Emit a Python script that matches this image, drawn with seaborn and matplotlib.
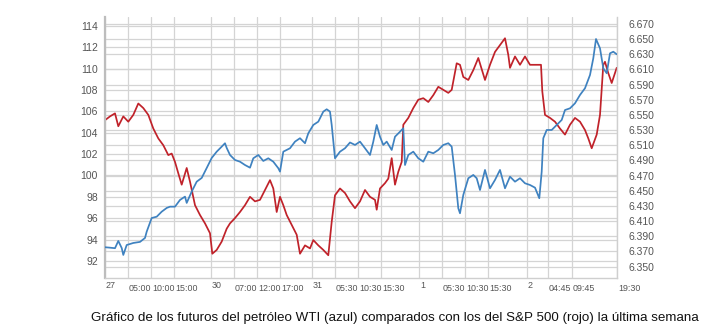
import matplotlib
matplotlib.use("Agg")
import matplotlib.pyplot as plt
import matplotlib.transforms as mtransforms
import seaborn as sns
import pandas as pd

# Trading-time position along the week (arbitrary continuous units) and prices
wti_t = [0, 5, 10, 13.3, 16.7, 18.3, 21.7, 28.3, 35, 40, 41.7, 46.7, 51.7, 56.7, 61.7,
         65, 70, 75, 80, 81.7, 86.7, 91.7, 96.7, 101.7, 106.7, 111.7, 116.7, 120, 121.7,
         125, 130, 135, 140, 145, 148.3, 153.3, 158.3, 163.3, 168.3, 173.3, 175, 178.3,
         185, 190, 195, 200, 203.3, 208.3, 213.3, 218.3, 221.7, 225, 226.7, 230, 235,
         240, 245, 250, 255, 260, 265, 268.3, 271.7, 275, 278.3, 281.7, 286.7, 290,
         295, 298.3, 300, 303.3, 308.3, 313.3, 318.3, 323.3, 328.3, 333.3, 338.3,
         343.3, 346.7, 350, 353.3, 355, 358.3, 363.3, 368.3, 371.7, 375, 380, 385, 390,
         395, 400, 405, 410, 415, 420, 425, 430, 434.3, 436.7, 438.3, 441.7, 446.7,
         451.7, 456.7, 460, 465, 470, 475, 480, 485, 488.3, 491, 495, 498.3, 501.7,
         505, 508.3, 511.7]
wti_v = [93.28, 93.24, 93.19, 93.87, 93.21, 92.56, 93.49, 93.68, 93.78, 94.15, 94.74,
         96.02, 96.14, 96.61, 96.96, 97.08, 97.08, 97.71, 98.02, 97.43, 98.49, 99.42,
         99.77, 100.70, 101.64, 102.23, 102.70, 103.02, 102.58, 101.92, 101.45, 101.29,
         100.98, 100.73, 101.61, 101.92, 101.36, 101.61, 101.29, 100.68, 100.36,
         102.23, 102.55, 103.17, 103.49, 103.02, 103.95, 104.73, 105.04, 105.98,
         106.20, 105.98, 104.73, 101.61, 102.23, 102.55, 103.09, 102.86, 103.17,
         102.55, 101.92, 103.17, 104.73, 103.63, 102.86, 103.17, 102.39, 103.63,
         104.10, 104.42, 100.98, 101.92, 102.23, 101.61, 101.29, 102.23, 102.08,
         102.39, 102.86, 103.02, 102.70, 100.05, 96.93, 96.46, 98.18, 99.74, 100.05,
         99.74, 98.64, 100.52, 98.80, 99.58, 100.52, 98.80, 99.89, 99.42, 99.74,
         99.27, 99.11, 98.86, 97.87, 100.36, 103.49, 104.26, 104.26, 104.73, 105.20,
         106.13, 106.29, 106.76, 107.54, 108.17, 109.41, 110.98, 112.78, 111.91,
         110.04, 109.57, 111.44, 111.59, 111.35]

spx_t = [0, 5, 10, 13.3, 18.3, 23.3, 28.3, 33.3, 38.3, 43.3, 48.3, 53.3, 58.3, 63.3,
         66.7, 70, 73.3, 76.7, 81.7, 85, 90, 95, 100, 105, 107.3, 111.7, 116.7, 121.7,
         125, 130, 135, 140, 145, 150, 155, 160, 165, 168.3, 171.7, 175, 178.3, 181.7,
         186.7, 191.7, 195, 200, 205, 208.3, 213.3, 218.3, 223.3, 226.7, 230, 235, 240,
         245, 250, 255, 260, 265, 270, 271.7, 275, 280, 283.3, 286.7, 290, 293.3, 296.7,
         298.3, 303.3, 308.3, 313.3, 318.3, 323.3, 328.3, 333.3, 338.3, 343.3, 346.7,
         351.7, 355, 358.3, 363.3, 368.3, 373.3, 380, 385, 390, 395, 400, 403.3, 405,
         410, 415, 420, 425, 430, 436, 437.3, 440, 445, 450, 455, 460, 465, 470, 475,
         480, 483.3, 486.7, 491.7, 495, 498.3, 500, 503.3, 506.7, 511.7]
spx_v = [6.543, 6.548, 6.552, 6.535, 6.548, 6.541, 6.550, 6.565, 6.559, 6.550, 6.532,
         6.519, 6.510, 6.497, 6.499, 6.488, 6.473, 6.458, 6.480, 6.462, 6.431, 6.418,
         6.407, 6.394, 6.367, 6.372, 6.383, 6.400, 6.407, 6.414, 6.422, 6.431, 6.442,
         6.436, 6.438, 6.451, 6.464, 6.453, 6.422, 6.442, 6.431, 6.418, 6.405, 6.392,
         6.367, 6.378, 6.374, 6.385, 6.378, 6.372, 6.365, 6.409, 6.444, 6.453, 6.447,
         6.436, 6.427, 6.436, 6.451, 6.442, 6.438, 6.425, 6.453, 6.460, 6.466, 6.493,
         6.458, 6.475, 6.488, 6.537, 6.546, 6.559, 6.570, 6.572, 6.567, 6.576, 6.587,
         6.583, 6.579, 6.583, 6.618, 6.616, 6.600, 6.596, 6.609, 6.625, 6.596, 6.616,
         6.633, 6.642, 6.651, 6.629, 6.612, 6.627, 6.616, 6.627, 6.616, 6.616, 6.616,
         6.581, 6.550, 6.546, 6.541, 6.532, 6.524, 6.537, 6.546, 6.541, 6.530, 6.519,
         6.506, 6.524, 6.550, 6.616, 6.620, 6.605, 6.592, 6.612]

# Horizontal axis labels: position, text, whether it marks a new day
tick_pos = [0, 23, 46, 69, 106, 129, 152, 175, 207, 230, 253, 276, 314, 337, 360,
            383, 422, 443, 467, 512]
tick_txt = ["27", "05:00", "10:00", "15:00", "30", "07:00", "12:00", "17:00", "31",
            "05:30", "10:30", "15:30", "1", "05:30", "10:30", "15:30", "2", "04:45",
            "09:45", "19:30"]
tick_day = [True, False, False, False, True, False, False, False, True, False, False,
            False, True, False, False, False, True, False, False, False]

left_ticks = list(range(92, 115, 2))
right_ticks = [6.350 + 0.020 * i for i in range(17)]

caption = ("Gráfico de los futuros del petróleo WTI (azul) comparados con los del "
           "S&P 500 (rojo) la última semana")

sns.set_theme(style="white")
plt.rcParams["font.family"] = ["Liberation Sans", "DejaVu Sans"]

BLUE = "#3f82c0"
RED = "#c0222a"
GRID = "#d4d4d4"
LABEL = "#555555"

fig = plt.figure(figsize=(7.04, 3.30), dpi=100)
ax = fig.add_axes([105 / 704, 1 - 278 / 330, 512 / 704, 261 / 330])
ax2 = ax.twinx()

wti = pd.DataFrame({"t": wti_t, "v": wti_v})
spx = pd.DataFrame({"t": spx_t, "v": spx_v})

ax.set_xlim(0, 512)
ax.set_ylim(90.40, 114.84)
ax2.set_ylim(6.335, 6.679)

# grid from both value scales plus the time ticks
for y in left_ticks:
    ax2.axhline((y - 90.40) / (114.84 - 90.40) * (6.679 - 6.335) + 6.335,
                color=GRID, lw=0.9, zorder=0)
for y in right_ticks:
    ax2.axhline(y, color=GRID, lw=0.9, zorder=0)
for x in tick_pos:
    ax2.axvline(x, color=GRID, lw=0.9, zorder=0)

sns.lineplot(data=spx, x="t", y="v", ax=ax2, color=RED, lw=1.25, zorder=3)
sns.lineplot(data=wti, x="t", y="v", ax=ax, color=BLUE, lw=1.25, zorder=3)

# oil line drawn above the grid and the index line's axes
ax.set_zorder(2)
ax.patch.set_visible(False)
ax2.set_zorder(1)
ax2.set_xlim(0, 512)

for a in (ax, ax2):
    a.set_xlabel("")
    a.set_ylabel("")
    for s in a.spines.values():
        s.set_visible(False)

ax.spines["left"].set_visible(True)
ax.spines["left"].set_color("#bdbdbd")
ax.spines["left"].set_linewidth(1.6)
ax.spines["bottom"].set_visible(True)
ax.spines["bottom"].set_color("#cfcfcf")
ax.spines["bottom"].set_linewidth(1.0)
ax.spines["right"].set_visible(True)
ax.spines["right"].set_color("#cfcfcf")
ax.spines["right"].set_linewidth(1.0)

ax.set_yticks(left_ticks)
ax.set_yticklabels([str(v) for v in left_ticks])
ax2.set_yticks(right_ticks)
ax2.set_yticklabels([f"{v:.3f}" for v in right_ticks])
ax.tick_params(axis="y", length=0, pad=5, labelsize=7.5, labelcolor=LABEL)
ax2.tick_params(axis="y", length=0, pad=8, labelsize=7.5, labelcolor=LABEL)

ax.set_xticks(tick_pos)
ax.set_xticklabels([])
ax.tick_params(axis="x", length=0)
ax2.set_xticks([])

trans = mtransforms.blended_transform_factory(ax.transData, ax.transAxes)
for p, s, d in zip(tick_pos, tick_txt, tick_day):
    ax.text(p + 1, -0.012 if d else -0.022, s, transform=trans, ha="left", va="top",
            fontsize=6.4, color=LABEL)

fig.text(395 / 704, 1 - 318 / 330, caption, ha="center", va="center", fontsize=9.6,
         color="#111111")

fig.savefig("out.png", dpi=100)
